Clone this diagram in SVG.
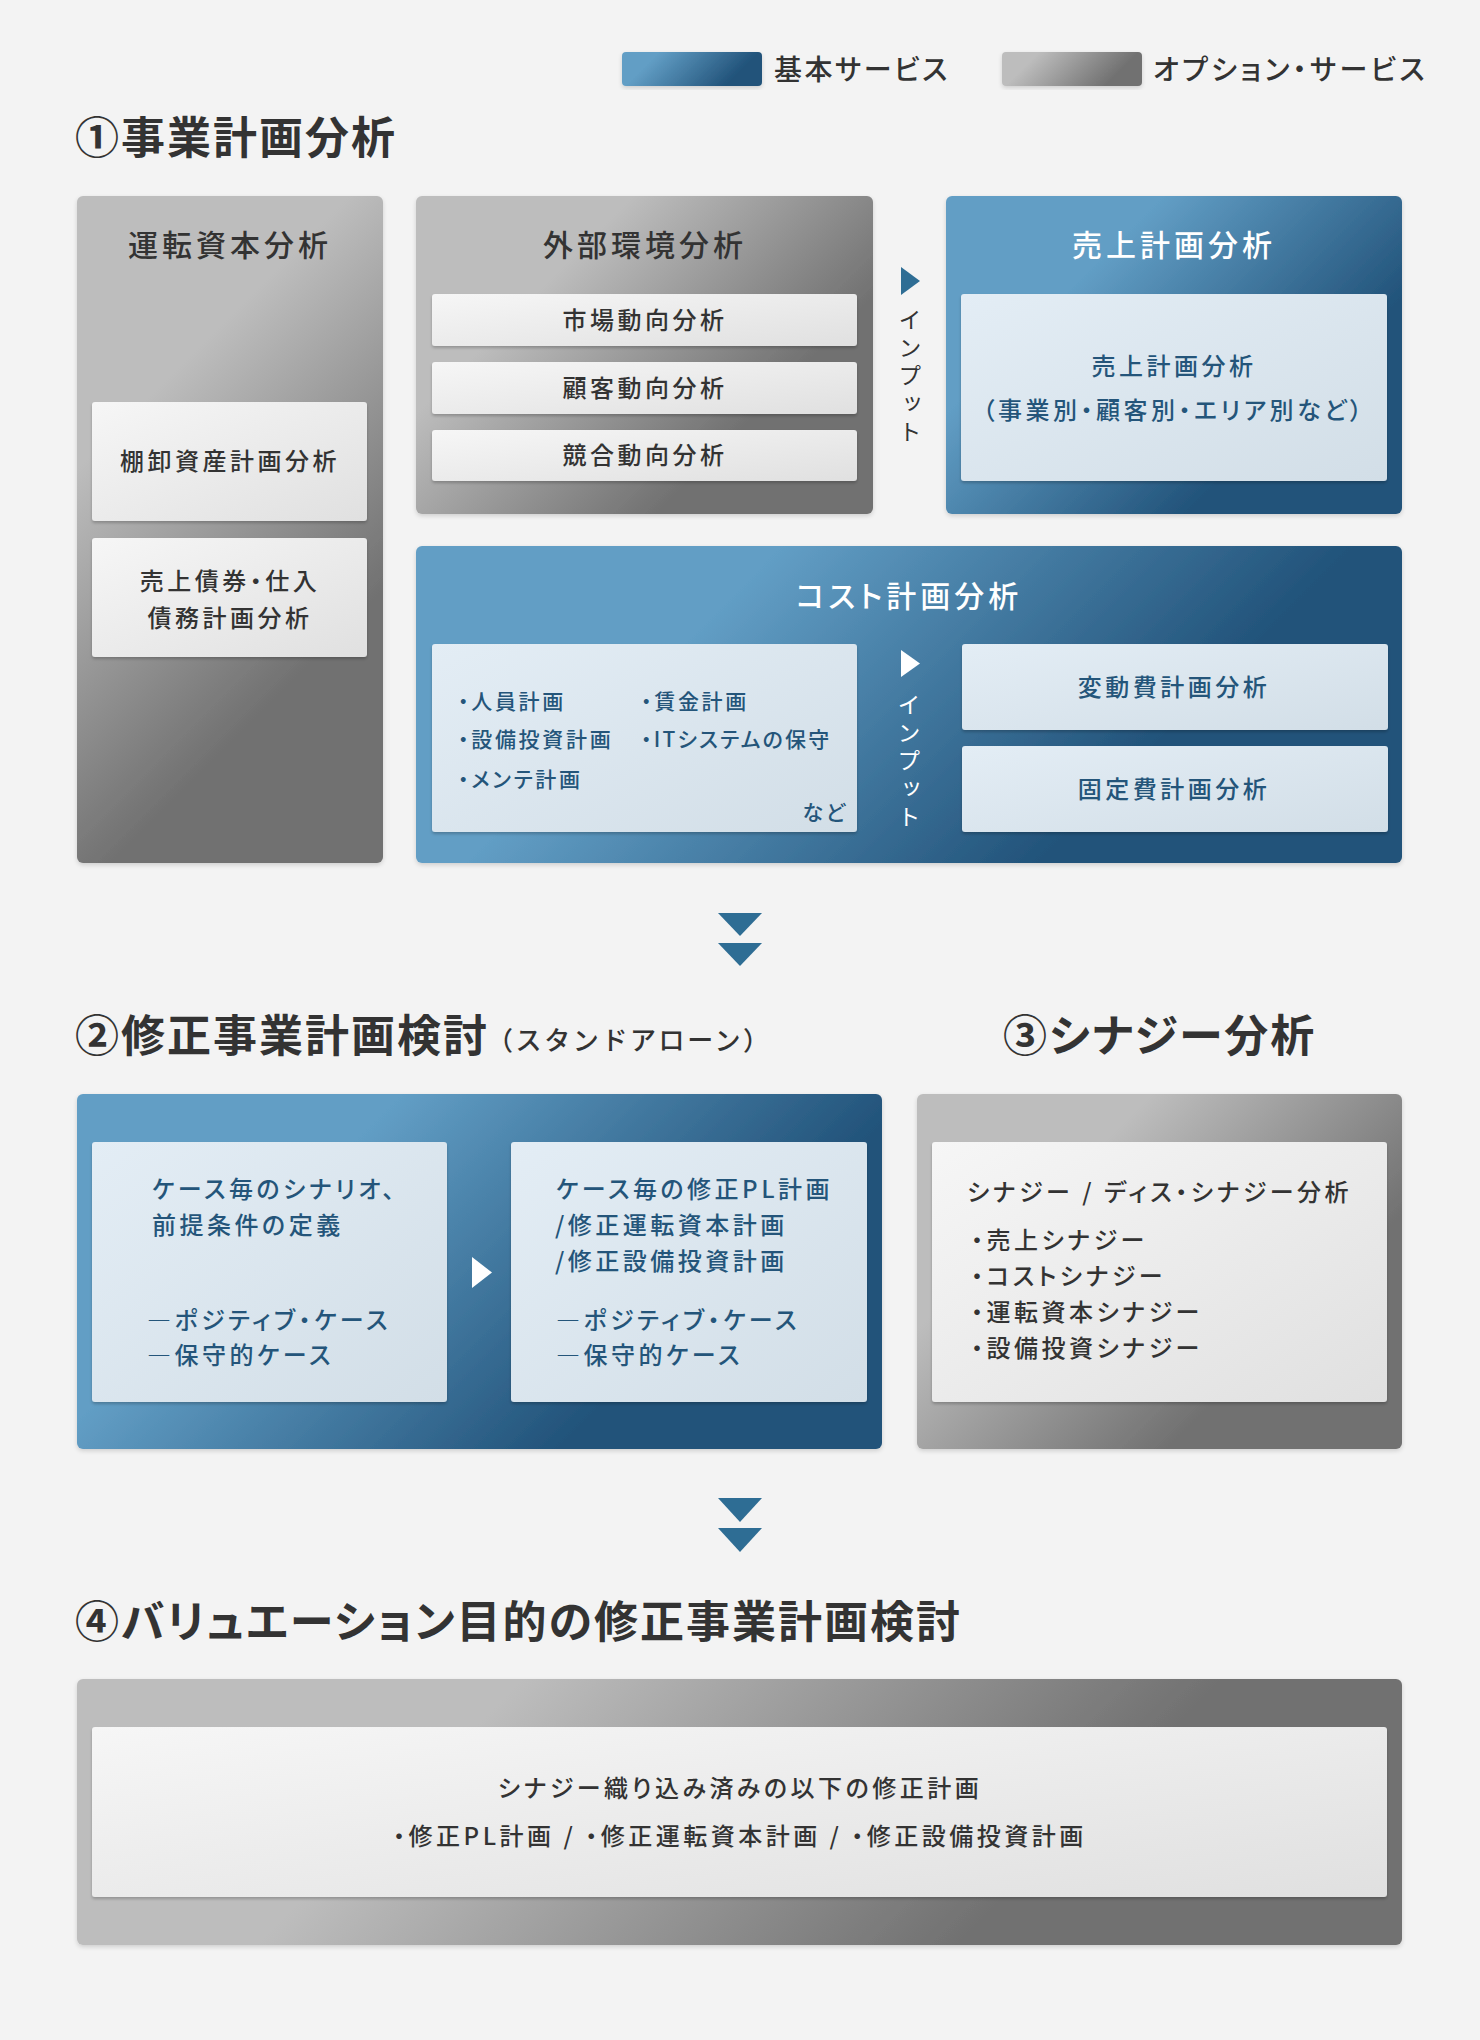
<svg xmlns="http://www.w3.org/2000/svg" width="1480" height="2040" viewBox="0 0 1480 2040">
<style>
text{font-family:"Noto Sans CJK JP","Noto Sans",sans-serif;font-feature-settings:"palt";}
.sec{font-size:44px;font-weight:700;fill:#333;letter-spacing:2px;}
.sub{font-size:26px;font-weight:500;fill:#333;font-feature-settings:normal;letter-spacing:2.6px;}
.lg{font-size:28px;font-weight:500;fill:#333;letter-spacing:2.5px;}
.lg2{letter-spacing:3.3px;}
.bt{font-size:30px;font-weight:500;letter-spacing:4px;text-anchor:middle;}
.tx{font-size:24px;font-weight:500;letter-spacing:3.5px;}
.sm{font-size:21px;font-weight:500;letter-spacing:2.7px;fill:#24557a;}
.sm2{letter-spacing:2.2px;}
.c{text-anchor:middle;}
.dk{fill:#333;}
.bl{fill:#24557a;}
.wh{fill:#fff;}
.vt{font-size:23px;font-weight:400;writing-mode:vertical-rl;letter-spacing:5px;font-feature-settings:normal;}
.card{filter:url(#sh);}
.box{filter:url(#sh2);}
</style>
<defs>
<filter id="sh" x="-5%" y="-10%" width="110%" height="130%"><feDropShadow dx="0" dy="2" stdDeviation="1.5" flood-color="#000" flood-opacity="0.22"/></filter>
<filter id="sh2" x="-5%" y="-5%" width="110%" height="115%"><feDropShadow dx="0" dy="2" stdDeviation="2" flood-color="#000" flood-opacity="0.15"/></filter>
<linearGradient id="gBlue"><stop offset="0.28" stop-color="#629ec5"/><stop offset="0.72" stop-color="#22537a"/></linearGradient>
<linearGradient id="gGrey"><stop offset="0.28" stop-color="#bdbdbd"/><stop offset="0.72" stop-color="#717171"/></linearGradient>
<linearGradient id="cG" x1="0" y1="0" x2="1" y2="1"><stop offset="0" stop-color="#f6f6f6"/><stop offset="1" stop-color="#e0e0e0"/></linearGradient>
<linearGradient id="cB" x1="0" y1="0" x2="1" y2="1"><stop offset="0" stop-color="#e3edf5"/><stop offset="1" stop-color="#d2dee7"/></linearGradient>
<linearGradient id="gLG" href="#gGrey" gradientUnits="userSpaceOnUse" x1="1015" y1="12" x2="1129" y2="126"/>
<linearGradient id="gLB" href="#gBlue" gradientUnits="userSpaceOnUse" x1="635" y1="12" x2="749" y2="126"/>
<linearGradient id="gWC" href="#gGrey" gradientUnits="userSpaceOnUse" x1="-13.25" y1="286.25" x2="473.25" y2="772.75"/>
<linearGradient id="gEX" href="#gGrey" gradientUnits="userSpaceOnUse" x1="450.75" y1="161.25" x2="838.25" y2="548.75"/>
<linearGradient id="gSY" href="#gGrey" gradientUnits="userSpaceOnUse" x1="949.5" y1="1061.5" x2="1369.5" y2="1481.5"/>
<linearGradient id="gS4" href="#gGrey" gradientUnits="userSpaceOnUse" x1="341.75" y1="1414.25" x2="1137.25" y2="2209.75"/>
<linearGradient id="gSA" href="#gBlue" gradientUnits="userSpaceOnUse" x1="980.5" y1="161.5" x2="1367.5" y2="548.5"/>
<linearGradient id="gCO" href="#gBlue" gradientUnits="userSpaceOnUse" x1="583.25" y1="378.75" x2="1234.75" y2="1030.25"/>
<linearGradient id="gS2" href="#gBlue" gradientUnits="userSpaceOnUse" x1="189.5" y1="981.5" x2="769.5" y2="1561.5"/>
</defs>
<rect x="0" y="0" width="1480" height="2040" fill="#f3f3f3"/>

<g id="legend">
<rect x="622" y="52" width="140" height="34" rx="4" fill="url(#gLB)" class="box"/>
<text x="774" y="80" class="lg">基本サービス</text>
<rect x="1002" y="52" width="140" height="34" rx="4" fill="url(#gLG)" class="box"/>
<text x="1153" y="80" class="lg lg2">オプション・サービス</text>
</g>

<g id="titles">
<text x="75" y="154" class="sec">①事業計画分析</text>
<text x="75" y="1052" class="sec">②修正事業計画検討<tspan class="sub" dx="-2" dy="-2">（スタンドアローン）</tspan></text>
<text x="1003" y="1052" class="sec">③シナジー分析</text>
<text x="75" y="1638" class="sec">④バリュエーション目的の修正事業計画検討</text>
</g>

<g id="node-working-capital">
<rect x="77" y="196" width="306" height="667" rx="6" fill="url(#gWC)" class="box"/>
<text x="230" y="256" class="bt dk">運転資本分析</text>
<rect x="92" y="402" width="275" height="119" rx="3" fill="url(#cG)" class="card"/>
<text x="230" y="470" class="tx dk c">棚卸資産計画分析</text>
<rect x="92" y="538" width="275" height="119" rx="3" fill="url(#cG)" class="card"/>
<text x="230" y="590" class="tx dk c">売上債券・仕入</text>
<text x="230" y="627" class="tx dk c">債務計画分析</text>
</g>

<g id="node-external">
<rect x="416" y="196" width="457" height="318" rx="6" fill="url(#gEX)" class="box"/>
<text x="645" y="256" class="bt dk">外部環境分析</text>
<rect x="432" y="294" width="425" height="52" rx="3" fill="url(#cG)" class="card"/>
<text x="645" y="329" class="tx dk c">市場動向分析</text>
<rect x="432" y="362" width="425" height="52" rx="3" fill="url(#cG)" class="card"/>
<text x="645" y="397" class="tx dk c">顧客動向分析</text>
<rect x="432" y="430" width="425" height="51" rx="3" fill="url(#cG)" class="card"/>
<text x="645" y="464" class="tx dk c">競合動向分析</text>
</g>

<g id="node-sales">
<rect x="946" y="196" width="456" height="318" rx="6" fill="url(#gSA)" class="box"/>
<text x="1174" y="256" class="bt wh">売上計画分析</text>
<rect x="961" y="294" width="426" height="187" rx="3" fill="url(#cB)" class="card"/>
<text x="1174" y="375" class="tx bl c">売上計画分析</text>
<text x="1174" y="419" class="tx bl c">（事業別・顧客別・エリア別など）</text>
</g>

<g id="node-cost">
<rect x="416" y="546" width="986" height="317" rx="6" fill="url(#gCO)" class="box"/>
<text x="909" y="607" class="bt wh">コスト計画分析</text>
<rect x="432" y="644" width="425" height="188" rx="3" fill="url(#cB)" class="card"/>
<text x="458" y="709" class="sm">・人員計画</text>
<text x="641" y="709" class="sm">・賃金計画</text>
<text x="458" y="747" class="sm">・設備投資計画</text>
<text x="641" y="747" class="sm sm2">・ITシステムの保守</text>
<text x="458" y="787" class="sm">・メンテ計画</text>
<text x="848" y="820" class="sm" text-anchor="end">など</text>
<rect x="962" y="644" width="426" height="86" rx="3" fill="url(#cB)" class="card"/>
<text x="1174" y="696" class="tx bl c">変動費計画分析</text>
<rect x="962" y="746" width="426" height="86" rx="3" fill="url(#cB)" class="card"/>
<text x="1174" y="798" class="tx bl c">固定費計画分析</text>
</g>

<g id="node-standalone">
<rect x="77" y="1094" width="805" height="355" rx="6" fill="url(#gS2)" class="box"/>
<rect x="92" y="1142" width="355" height="260" rx="3" fill="url(#cB)" class="card"/>
<text x="152" y="1198" class="tx bl">ケース毎のシナリオ、</text>
<text x="152" y="1234" class="tx bl">前提条件の定義</text>
<text x="147" y="1329" class="tx bl">―ポジティブ・ケース</text>
<text x="147" y="1364" class="tx bl">―保守的ケース</text>
<rect x="511" y="1142" width="356" height="260" rx="3" fill="url(#cB)" class="card"/>
<text x="556" y="1198" class="tx bl">ケース毎の修正PL計画</text>
<text x="555" y="1234" class="tx bl">/修正運転資本計画</text>
<text x="555" y="1270" class="tx bl">/修正設備投資計画</text>
<text x="556" y="1329" class="tx bl">―ポジティブ・ケース</text>
<text x="556" y="1364" class="tx bl">―保守的ケース</text>
</g>

<g id="node-synergy">
<rect x="917" y="1094" width="485" height="355" rx="6" fill="url(#gSY)" class="box"/>
<rect x="932" y="1142" width="455" height="260" rx="3" fill="url(#cG)" class="card"/>
<text x="967" y="1201" class="tx dk">シナジー / ディス・シナジー分析</text>
<text x="971" y="1249" class="tx dk">・売上シナジー</text>
<text x="971" y="1285" class="tx dk">・コストシナジー</text>
<text x="971" y="1321" class="tx dk">・運転資本シナジー</text>
<text x="971" y="1357" class="tx dk">・設備投資シナジー</text>
</g>

<g id="node-valuation">
<rect x="77" y="1679" width="1325" height="266" rx="6" fill="url(#gS4)" class="box"/>
<rect x="92" y="1727" width="1295" height="170" rx="3" fill="url(#cG)" class="card"/>
<text x="740" y="1797" class="tx dk c">シナジー織り込み済みの以下の修正計画</text>
<text x="740" y="1845" class="tx dk c">・修正PL計画 / ・修正運転資本計画 / ・修正設備投資計画</text>
</g>

<g id="connectors">
<polygon points="901,267 920,281 901,295" fill="#2e6d94"/>
<text x="910" y="308" class="vt dk">インプット</text>
<polygon points="901,650 920,663.5 901,677" fill="#fff"/>
<text x="909" y="693" class="vt wh">インプット</text>
<polygon points="472,1257 492,1272.5 472,1288" fill="#fff"/>
<polygon points="718,913 762,913 740,936" fill="#2e6d94"/>
<polygon points="718,943 762,943 740,966" fill="#2e6d94"/>
<polygon points="718,1498 762,1498 740,1522" fill="#2e6d94"/>
<polygon points="718,1528 762,1528 740,1552" fill="#2e6d94"/>
</g>
</svg>
